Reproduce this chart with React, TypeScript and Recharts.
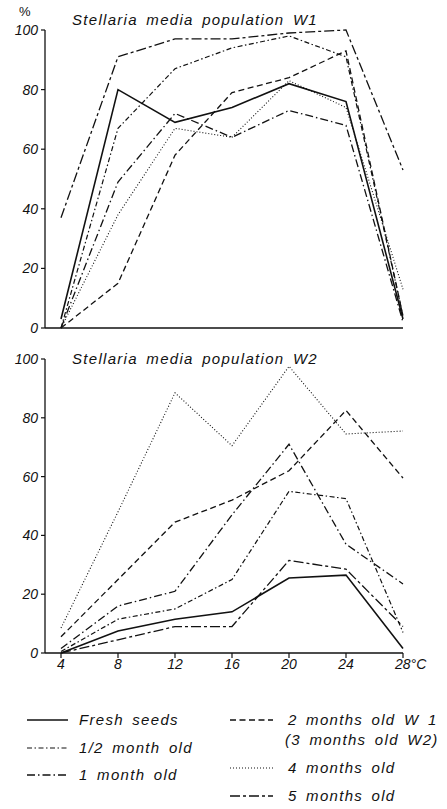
import React from 'react';
import { LineChart, Line, XAxis, YAxis } from 'recharts';

// Temperatures (°C)
const temps = [4, 8, 12, 16, 20, 24, 28];
const yTicks = [0, 20, 40, 60, 80, 100];

// Population W1 (% germination)
const w1Fresh = [3, 80, 69, 74, 82, 76, 3];
const w1Half = [0, 67, 87, 94, 98, 91, 4];
const w1One = [0, 49, 72, 64, 73, 68, 2];
const w1Two = [0, 15, 58, 79, 84, 93, 4];
const w1Four = [0, 38, 67, 64, 83, 74, 13];
const w1Five = [37, 91, 97, 97, 99, 100, 53];

// Population W2 (% germination)
const w2Fresh = [0, 7.5, 11.5, 14, 25.5, 26.5, 1.5];
const w2Half = [0.5, 11.5, 15, 25, 55, 52.5, 7];
const w2One = [1.5, 16, 21, 47, 71, 37, 23.5];
const w2Three = [5.5, 25, 44.5, 52, 62, 82.5, 59.5];
const w2Four = [8.5, 48, 88.5, 70.5, 97.5, 74.5, 75.5];
const w2Five = [0, 4.5, 9, 9, 31.5, 28.5, 9];

const titleW1 = 'Stellaria media population W1';
const titleW2 = 'Stellaria media population W2';

const w1Rows = temps.map((t, i) => ({
  t,
  fresh: w1Fresh[i],
  half: w1Half[i],
  one: w1One[i],
  two: w1Two[i],
  four: w1Four[i],
  five: w1Five[i],
}));

const w2Rows = temps.map((t, i) => ({
  t,
  fresh: w2Fresh[i],
  half: w2Half[i],
  one: w2One[i],
  two: w2Three[i],
  four: w2Four[i],
  five: w2Five[i],
}));

const FONT = '"Liberation Sans", Arial, sans-serif';
const INK = '#111';

const seriesStyle: Record<string, { dash?: string; w: number }> = {
  fresh: { w: 1.6 },
  half: { dash: '5 2.5 1.5 2.5', w: 1.2 },
  one: { dash: '8 3 1.5 3', w: 1.3 },
  two: { dash: '6 3.5', w: 1.3 },
  four: { dash: '1 2', w: 1.1 },
  five: { dash: '10 3 3 3', w: 1.3 },
};

const keys = ['fresh', 'half', 'one', 'two', 'four', 'five'];

const tickFont = { fontFamily: FONT, fontStyle: 'italic', fontSize: 14, fill: INK };

const XTick = (props: any) => {
  const { x, y, payload } = props;
  const v = payload.value;
  if (v === 28) {
    return (
      <text x={x - 8} y={y} dy="0.71em" textAnchor="start" style={tickFont as any}>
        28°C
      </text>
    );
  }
  return (
    <text x={x} y={y} dy="0.71em" textAnchor="middle" style={tickFont as any}>
      {v}
    </text>
  );
};

const renderLines = () =>
  keys.map((k) => (
    <Line
      key={k}
      type="linear"
      dataKey={k}
      stroke={INK}
      strokeWidth={seriesStyle[k].w}
      strokeDasharray={seriesStyle[k].dash}
      dot={false}
      activeDot={false}
      isAnimationActive={false}
    />
  ));

const legendLeft = [
  { k: 'fresh', label: 'Fresh seeds', y: 720 },
  { k: 'half', label: '1/2 month old', y: 748 },
  { k: 'one', label: '1 month old', y: 775 },
];
const legendRight = [
  { k: 'two', label: '2 months old W 1', y: 720 },
  { k: 'four', label: '4 months old', y: 768 },
  { k: 'five', label: '5 months old', y: 796 },
];

const textStyle: any = {
  fontFamily: FONT,
  fontStyle: 'italic',
  fontSize: 15,
  letterSpacing: 1.3,
  wordSpacing: 3,
  fill: INK,
};

export default function App() {
  return (
    <div style={{ position: 'absolute', left: 0, top: 0, width: 447, height: 809, background: '#fff' }}>
      <div style={{ position: 'absolute', left: 0, top: 0 }}>
        <LineChart width={447} height={345} data={w1Rows} margin={{ top: 30, right: 44, bottom: 0, left: 0 }}>
          <XAxis
            dataKey="t"
            type="number"
            domain={[4, 28]}
            ticks={temps}
            tick={false}
            tickSize={5}
            height={17}
            padding={{ left: 16, right: 0 }}
            axisLine={{ stroke: INK, strokeWidth: 1.3 }}
            tickLine={{ stroke: INK, strokeWidth: 1.2 }}
          />
          <YAxis
            type="number"
            domain={[0, 100]}
            ticks={yTicks}
            width={45}
            tickSize={4}
            tickMargin={3}
            tick={tickFont}
            axisLine={{ stroke: INK, strokeWidth: 1.3 }}
            tickLine={{ stroke: INK, strokeWidth: 1.2 }}
          />
          {renderLines()}
        </LineChart>
      </div>
      <div style={{ position: 'absolute', left: 0, top: 345 }}>
        <LineChart width={447} height={338} data={w2Rows} margin={{ top: 14, right: 44, bottom: 0, left: 0 }}>
          <XAxis
            dataKey="t"
            type="number"
            domain={[4, 28]}
            ticks={temps}
            tick={<XTick />}
            tickSize={5}
            tickMargin={1}
            height={30}
            padding={{ left: 16, right: 0 }}
            axisLine={{ stroke: INK, strokeWidth: 1.3 }}
            tickLine={{ stroke: INK, strokeWidth: 1.2 }}
          />
          <YAxis
            type="number"
            domain={[0, 100]}
            ticks={yTicks}
            width={45}
            tickSize={4}
            tickMargin={3}
            tick={tickFont}
            axisLine={{ stroke: INK, strokeWidth: 1.3 }}
            tickLine={{ stroke: INK, strokeWidth: 1.2 }}
          />
          {renderLines()}
        </LineChart>
      </div>
      <svg
        width={447}
        height={809}
        style={{ position: 'absolute', left: 0, top: 0, pointerEvents: 'none' }}
      >
        <text x={19} y={16} style={{ ...textStyle, fontSize: 13, fontStyle: 'normal', letterSpacing: 0 }}>%</text>
        <text x={72} y={25} style={textStyle}>{titleW1}</text>
        <text x={72} y={364} style={textStyle}>{titleW2}</text>
        {legendLeft.map((r) => (
          <g key={r.k}>
            <line
              x1={27}
              x2={68}
              y1={r.y}
              y2={r.y}
              stroke={INK}
              strokeWidth={seriesStyle[r.k].w}
              strokeDasharray={seriesStyle[r.k].dash}
            />
            <text x={79} y={r.y + 5} style={textStyle}>{r.label}</text>
          </g>
        ))}
        {legendRight.map((r) => (
          <g key={r.k}>
            <line
              x1={230}
              x2={273}
              y1={r.y}
              y2={r.y}
              stroke={INK}
              strokeWidth={seriesStyle[r.k].w}
              strokeDasharray={seriesStyle[r.k].dash}
            />
            <text x={288} y={r.y + 5} style={textStyle}>{r.label}</text>
          </g>
        ))}
        <text x={285} y={745} style={textStyle}>(3 months old W2)</text>
      </svg>
    </div>
  );
}
